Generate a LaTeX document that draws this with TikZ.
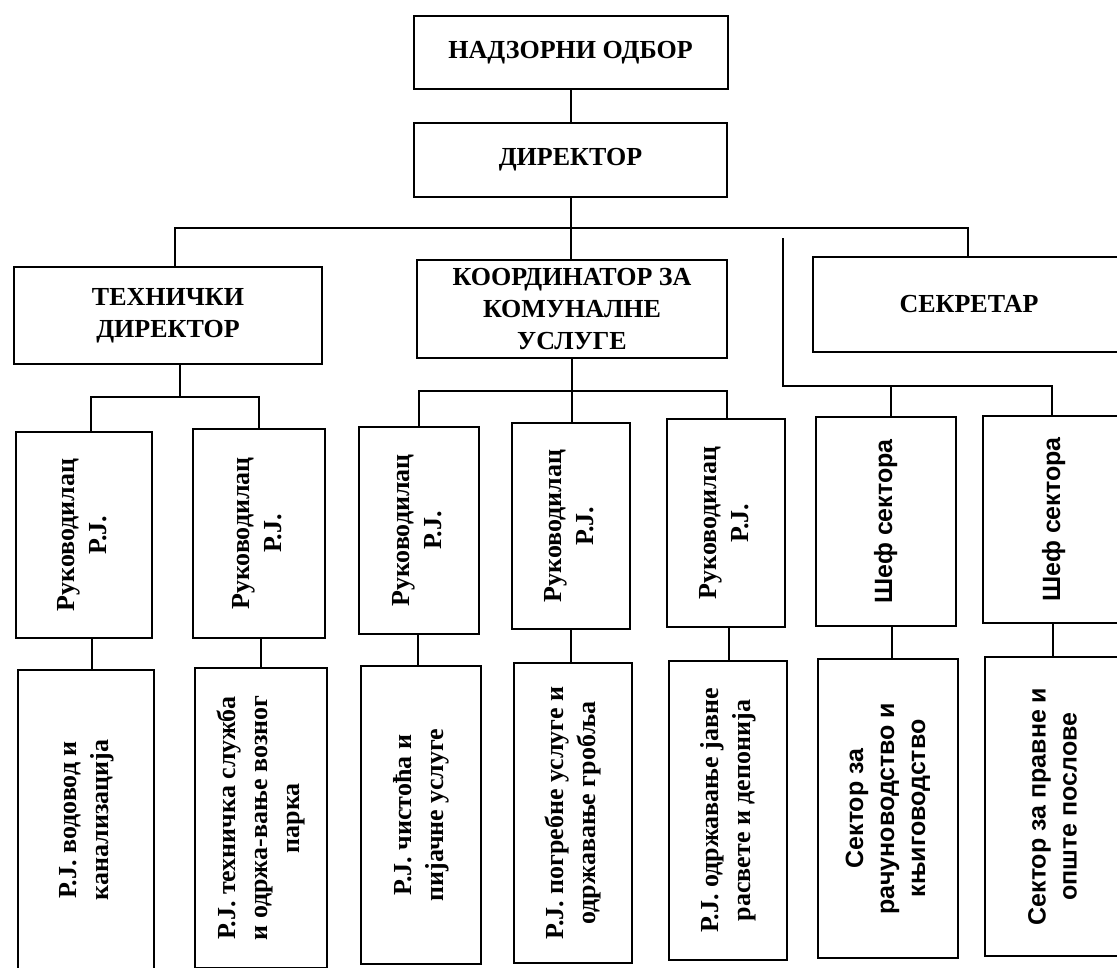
\documentclass[tikz,border=0pt]{standalone}
\usepackage{fontspec}
\setmainfont{Liberation Serif}
\setsansfont{Liberation Sans}
\usetikzlibrary{positioning, calc}

\newcommand{\vertlabel}[1]{\rotatebox{90}{\begin{tabular}{@{}c@{}}#1\end{tabular}}}

\begin{document}
\begin{tikzpicture}[x=1pt, y=-1pt]
		\tikzstyle{unit} = [rectangle, draw=black, line width=2pt, inner sep=0, outer sep=0, align=center, font=\fontsize{26}{32}\selectfont\bfseries]
		\tikzstyle{sfunit} = [unit, font=\fontsize{25}{31}\selectfont\sffamily\bfseries]
		\tikzstyle{link} = [line width=2pt]

		\path[use as bounding box, fill=white] (0,0) rectangle (1117,967);
		\clip (0,0) rectangle (1117,967);

		% Management
		\node[unit, minimum width=314, minimum height=73](board) at (570.5,52.5) {НАДЗОРНИ ОДБОР};
		\node[unit, minimum width=313, minimum height=74](director) at (570.5,160) {ДИРЕКТОР};
		\node[unit, minimum width=308, minimum height=97](tech) at (168,315.5) {ТЕХНИЧКИ\\ДИРЕКТОР};
		\node[unit, minimum width=310, minimum height=98](coord) at (572,309) {КООРДИНАТОР ЗА\\КОМУНАЛНЕ\\УСЛУГЕ};
		\node[unit, minimum width=312, minimum height=95](secr) at (969,304.5) {СЕКРЕТАР};

		% Heads
		\foreach \i/\l/\t/\r/\b in {1/16/432/152/638, 2/193/429/325/638, 3/359/427/479/634, 4/512/423/630/629, 5/667/419/785/627} {
				\node[unit, minimum width={\r-\l}, minimum height={\b-\t}](head_\i) at ({(\l+\r)/2},{(\t+\b)/2}) {\vertlabel{Руководилац\\Р.Ј.}};
			};
		\foreach \i/\l/\t/\r/\b in {6/816/417/956/626, 7/983/416/1125/623} {
				\node[sfunit, minimum width={\r-\l}, minimum height={\b-\t}](head_\i) at ({(\l+\r)/2},{(\t+\b)/2}) {\vertlabel{Шеф сектора}};
			};

		% Units
		\foreach \i/\l/\t/\r/\b/\txt in {1/18/670/154/970/{Р.Ј. водовод и\\канализација}, 2/195/668/327/968/{Р.Ј. техничка служба\\и одржа-вање возног\\парка}, 3/361/666/481/964/{Р.Ј. чистоћа и\\пијачне услуге}, 4/514/663/632/963/{Р.Ј. погребне услуге и\\одржавање гробља}, 5/669/661/787/960/{Р.Ј. одржавање јавне\\расвете и депонија}} {
				\node[unit, minimum width={\r-\l}, minimum height={\b-\t}](unit_\i) at ({(\l+\r)/2},{(\t+\b)/2}) {\vertlabel{\txt}};
			};
		\foreach \i/\l/\t/\r/\b/\txt in {6/818/659/958/958/{Сектор за\\рачуноводство и\\књиговодство}, 7/985/657/1125/956/{Сектор за правне и\\опште послове}} {
				\node[sfunit, minimum width={\r-\l}, minimum height={\b-\t}](unit_\i) at ({(\l+\r)/2},{(\t+\b)/2}) {\vertlabel{\txt}};
			};

		% Top lines
		\coordinate (bus_l) at (175,228);
		\coordinate (bus_r) at (968,228);
		\draw[link] (board.south) -- (director.north);
		\draw[link] (director.south) -- (director.south |- coord.north);
		\draw[link] (bus_l |- tech.north) -- (bus_l) -- (bus_r) -- (bus_r |- secr.north);

		% Technical director
		\coordinate (tech_l) at (91,397);
		\coordinate (tech_m) at (180,397);
		\coordinate (tech_r) at (259,397);
		\draw[link] (tech.south -| tech_m) -- (tech_m);
		\draw[link] (head_1.north -| tech_l) -- (tech_l) -- (tech_r) -- (head_2.north -| tech_r);

		% Coordinator
		\coordinate (coord_r) at (727,391);
		\draw[link] (coord.south) -- (coord.south |- head_4.north);
		\draw[link] (head_3.north) |- (coord_r) -- (coord_r |- head_5.north);

		% Secretary
		\coordinate (secr_top) at (783,238);
		\coordinate (secr_l) at (783,386);
		\coordinate (secr_m) at (891,386);
		\coordinate (secr_r) at (1052,386);
		\draw[link] (secr_top) -- (secr_l) -- (secr_r) -- (secr_r |- head_7.north);
		\draw[link] (secr_m) -- (secr_m |- head_6.north);

		% Heads to units
		\foreach \i/\x in {1/92, 2/261, 3/418, 4/571, 5/729, 6/892, 7/1053} {
				\coordinate (drop_\i) at (\x,0);
				\draw[link] (head_\i.south -| drop_\i) -- (unit_\i.north -| drop_\i);
			};

	\end{tikzpicture}
\end{document}
